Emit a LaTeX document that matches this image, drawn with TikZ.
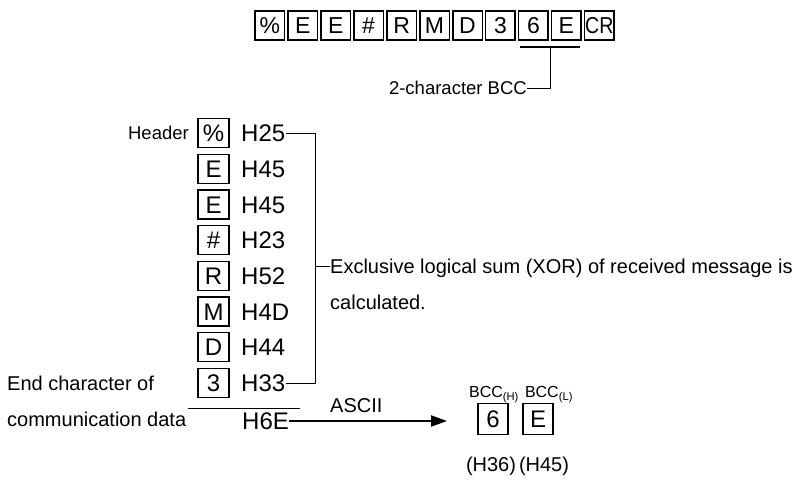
\documentclass[tikz,border=0pt]{standalone}
\usepackage{fontspec}
\setmainfont{Liberation Sans}
\usetikzlibrary{arrows.meta,calc}
\begin{document}
\begin{tikzpicture}[x=1pt,y=-1pt,
  chbox/.style={draw,line width=1.3pt,minimum width=31pt,minimum height=29pt,inner sep=0pt,font=\fontsize{24}{28}\selectfont,text height=17.2pt,text depth=0pt},
  topbox/.style={chbox,line width=1.5pt,minimum width=29.5pt,minimum height=29pt,font=\fontsize{23}{27}\selectfont,text height=16.5pt},
  smtext/.style={inner sep=0pt,font=\fontsize{20}{24}\selectfont,text height=14.3pt,text depth=0pt},
  midtext/.style={inner sep=0pt,font=\fontsize{18.5}{22}\selectfont,text height=13.2pt,text depth=0pt},
  hexlbl/.style={inner sep=0pt,font=\fontsize{24}{28}\selectfont,text height=17.2pt,text depth=0pt},
  subtext/.style={inner sep=0pt,font=\fontsize{16}{19}\selectfont,text height=11.5pt,text depth=0pt},
  conn/.style={line width=1pt}]
\useasboundingbox (0,0) rectangle (799,480);
% top row
\node[topbox] (t0) at (269.8,25.5) {\%};
\node[topbox] (t1) at (302.7,25.5) {E};
\node[topbox] (t2) at (335.7,25.5) {E};
\node[topbox] (t3) at (368.6,25.5) {\#};
\node[topbox] (t4) at (401.6,25.5) {R};
\node[topbox] (t5) at (434.5,25.5) {M};
\node[topbox] (t6) at (467.5,25.5) {D};
\node[topbox] (t7) at (500.4,25.5) {3};
\node[topbox] (t8) at (533.4,25.5) {6};
\node[topbox] (t9) at (566.3,25.5) {E};
\node[topbox] (t10) at (599.3,25.5) {\scalebox{0.85}[1]{CR}};
% BCC bracket
\coordinate (bl) at (520,47);
\coordinate (br) at (580,47);
\coordinate (bm) at (550,47);
\coordinate (bd) at (550,88);
\draw[line width=2.6pt] (bl) -- (br);
\node[midtext,anchor=east] (bcct) at (527,88) {2-character BCC};
\draw[conn] (bcct.east) -- (bd) -- (bm);
% column
\node[midtext,anchor=east] (hdr) at (189,133) {Header};
\node[chbox] (c0) at (213.5,133) {\%};
\node[chbox] (c1) at (213.5,168.7) {E};
\node[chbox] (c2) at (213.5,204.4) {E};
\node[chbox] (c3) at (213.5,240.1) {\#};
\node[chbox] (c4) at (213.5,275.8) {R};
\node[chbox] (c5) at (213.5,311.5) {M};
\node[chbox] (c6) at (213.5,347.2) {D};
\node[chbox] (c7) at (213.5,383) {3};
\node[hexlbl,anchor=west] (h0) at (241,133) {H25};
\node[hexlbl,anchor=west] (h1) at (241,168.7) {H45};
\node[hexlbl,anchor=west] (h2) at (241,204.4) {H45};
\node[hexlbl,anchor=west] (h3) at (241,240.1) {H23};
\node[hexlbl,anchor=west] (h4) at (241,275.8) {H52};
\node[hexlbl,anchor=west] (h5) at (241,311.5) {H4D};
\node[hexlbl,anchor=west] (h6) at (241,347.2) {H44};
\node[hexlbl,anchor=west] (h7) at (241,383) {H33};
\coordinate (vt) at (315,133);
\coordinate (vb) at (315,383);
\coordinate (vm) at (315,266);
\draw[conn] ([xshift=1pt]h0.east) -- (vt) -- (vb) -- ([xshift=1pt]h7.east);
\node[smtext,anchor=west] (xor1) at (330,266) {Exclusive logical sum (XOR) of received message is};
\node[smtext,anchor=west] (xor2) at (330,302) {calculated.};
\draw[conn] (vm) -- (xor1.west);
% bottom
\node[smtext,anchor=west] (end1) at (7,383) {End character of};
\node[smtext,anchor=west] (end2) at (7,419) {communication data};
\coordinate (ul) at (188,408);
\coordinate (ur) at (300,408);
\draw[line width=0.8pt] (ul) -- (ur);
\node[hexlbl,anchor=west] (h6e) at (242,421) {H6E};
\coordinate (tip) at (447,421);
\draw[line width=2pt,-{Triangle[length=16pt,width=11pt]}] (h6e.east) -- (tip);
\node[smtext,anchor=west] (ascii) at (330,405) {ASCII};
\node[chbox,minimum width=30pt,minimum height=31pt] (b6) at (493,419) {6};
\node[chbox,minimum width=30pt,minimum height=31pt] (bE) at (538,419) {E};
\node[subtext] (bh) at (494,392) {BCC\textsubscript{(H)}};
\node[subtext] (bl2) at (549,392) {BCC\textsubscript{(L)}};
\node[smtext] (p36) at (491,464) {(H36)};
\node[smtext] (p45) at (544,464) {(H45)};
\end{tikzpicture}
\end{document}
